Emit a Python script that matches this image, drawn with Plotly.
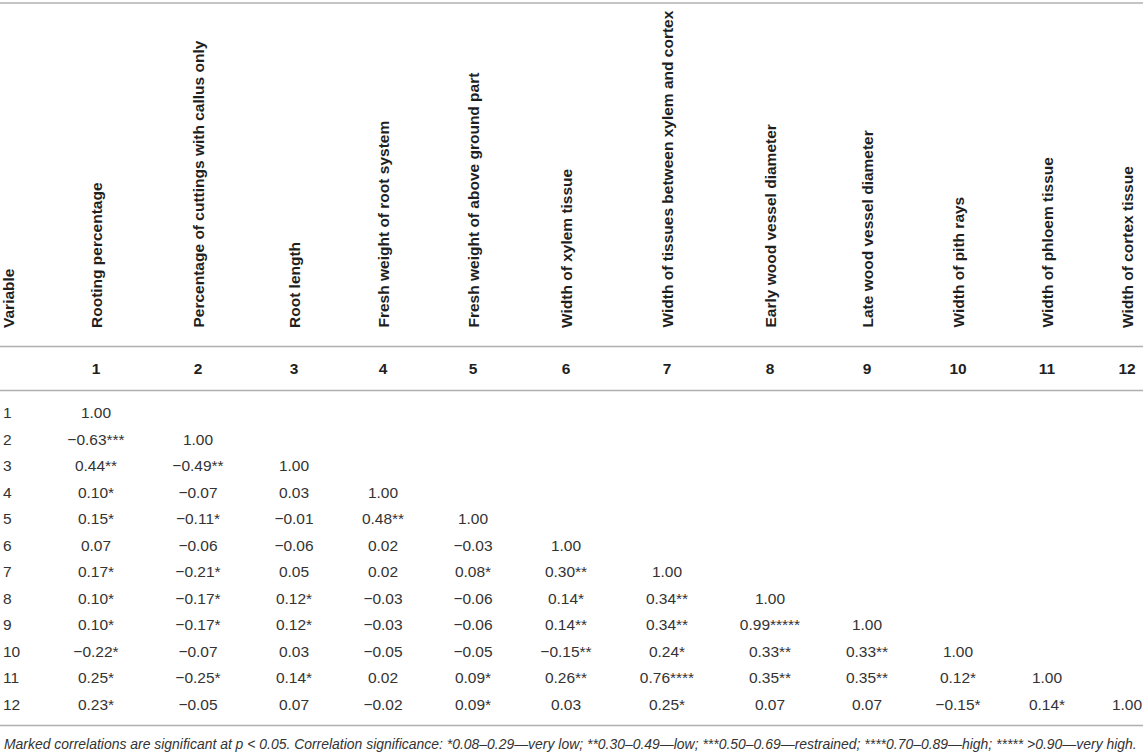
import plotly.graph_objects as go

# ---------------- data ----------------
variables = [
    "Rooting percentage",
    "Percentage of cuttings with callus only",
    "Root length",
    "Fresh weight of root system",
    "Fresh weight of above ground part",
    "Width of xylem tissue",
    "Width of tissues between xylem and cortex",
    "Early wood vessel diameter",
    "Late wood vessel diameter",
    "Width of pith rays",
    "Width of phloem tissue",
    "Width of cortex tissue",
]
var_numbers = ["1", "2", "3", "4", "5", "6", "7", "8", "9", "10", "11", "12"]

corr_rows = [
    [1.00],
    [-0.63, 1.00],
    [0.44, -0.49, 1.00],
    [0.10, -0.07, 0.03, 1.00],
    [0.15, -0.11, -0.01, 0.48, 1.00],
    [0.07, -0.06, -0.06, 0.02, -0.03, 1.00],
    [0.17, -0.21, 0.05, 0.02, 0.08, 0.30, 1.00],
    [0.10, -0.17, 0.12, -0.03, -0.06, 0.14, 0.34, 1.00],
    [0.10, -0.17, 0.12, -0.03, -0.06, 0.14, 0.34, 0.99, 1.00],
    [-0.22, -0.07, 0.03, -0.05, -0.05, -0.15, 0.24, 0.33, 0.33, 1.00],
    [0.25, -0.25, 0.14, 0.02, 0.09, 0.26, 0.76, 0.35, 0.35, 0.12, 1.00],
    [0.23, -0.05, 0.07, -0.02, 0.09, 0.03, 0.25, 0.07, 0.07, -0.15, 0.14, 1.00],
]
star_rows = [
    [0],
    [3, 0],
    [2, 2, 0],
    [1, 0, 0, 0],
    [1, 1, 0, 2, 0],
    [0, 0, 0, 0, 0, 0],
    [1, 1, 0, 0, 1, 2, 0],
    [1, 1, 1, 0, 0, 1, 2, 0],
    [1, 1, 1, 0, 0, 2, 2, 5, 0],
    [1, 0, 0, 0, 0, 2, 1, 2, 2, 0],
    [1, 1, 1, 0, 1, 2, 4, 2, 2, 1, 0],
    [1, 0, 0, 0, 1, 0, 1, 0, 0, 1, 1, 0],
]
header_label = "Variable"
footnote = ("<i>Marked correlations are significant at p &lt; 0.05. Correlation significance: "
            "*0.08–0.29—very low; **0.30–0.49—low; ***0.50–0.69—restrained; "
            "****0.70–0.89—high; ***** &gt;0.90—very high.</i>")

# ---------------- layout constants ----------------
W, H = 1143, 752
COL_X = [96, 198, 294, 383, 473, 566, 667, 770, 867, 958, 1047, 1127]
LABEL_X = 3
ROW_Y0, ROW_DY = 414.5, 26.5
HEAD_NUM_Y = 370
HEAD_TXT_BOTTOM = 329
LINES_Y = [3, 346.5, 390.5, 725.5]
FOOT_Y = 744

TXT = "#333333"
HEAD = "#1f1f1f"
LINE = "#b0b0b0"


def row_y(r):
    return ROW_Y0 + r * ROW_DY


def fmt(v, s):
    t = f"{abs(v):.2f}"
    if v < 0:
        t = "\u2212" + t
    return t + "*" * s


fig = go.Figure()

# cells
xs, ys, ts = [], [], []
for r, (vals, stars) in enumerate(zip(corr_rows, star_rows)):
    for c, (v, s) in enumerate(zip(vals, stars)):
        xs.append(COL_X[c])
        ys.append(row_y(r))
        ts.append(fmt(v, s))
fig.add_trace(go.Scatter(
    x=xs, y=ys, text=ts, mode="text", textposition="middle center",
    textfont=dict(family="Liberation Sans, Arial, sans-serif", size=15.5, color=TXT),
    hoverinfo="skip", showlegend=False))

# row labels
fig.add_trace(go.Scatter(
    x=[LABEL_X] * len(var_numbers), y=[row_y(r) for r in range(len(var_numbers))],
    text=var_numbers, mode="text", textposition="middle right",
    textfont=dict(family="Liberation Sans, Arial, sans-serif", size=15.5, color=TXT),
    hoverinfo="skip", showlegend=False))

# header numbers
fig.add_trace(go.Scatter(
    x=COL_X, y=[HEAD_NUM_Y] * len(COL_X), text=var_numbers, mode="text",
    textposition="middle center",
    textfont=dict(family="Liberation Sans, Arial, sans-serif", size=15.5, color=HEAD, weight="bold"),
    hoverinfo="skip", showlegend=False))

annotations = []
# rotated headers
for x, name in zip([LABEL_X + 5] + COL_X, [header_label] + variables):
    annotations.append(dict(
        x=x, y=HEAD_TXT_BOTTOM, xref="x", yref="y", text=name, showarrow=False,
        textangle=-90, xanchor="center", yanchor="bottom", borderpad=0,
        font=dict(family="Liberation Sans, Arial, sans-serif", size=15.5, color=HEAD, weight="bold")))
annotations.append(dict(
    x=LABEL_X, y=FOOT_Y, xref="x", yref="y", text=footnote, showarrow=False,
    xanchor="left", yanchor="middle", borderpad=0,
    font=dict(family="Liberation Sans, Arial, sans-serif", size=13.95, color=TXT)))

shapes = [dict(type="line", xref="x", yref="y", x0=0, x1=W, y0=y, y1=y,
               line=dict(color=LINE, width=1.3)) for y in LINES_Y]

fig.update_layout(
    width=W, height=H, margin=dict(l=0, r=0, t=0, b=0),
    paper_bgcolor="white", plot_bgcolor="white",
    xaxis=dict(range=[0, W], visible=False, fixedrange=True),
    yaxis=dict(range=[H, 0], visible=False, fixedrange=True),
    annotations=annotations, shapes=shapes,
)

fig.write_html(
    "out.html",
    config={"displayModeBar": False},
    post_script="document.body.style.margin='0';document.body.style.overflow='hidden';",
)
